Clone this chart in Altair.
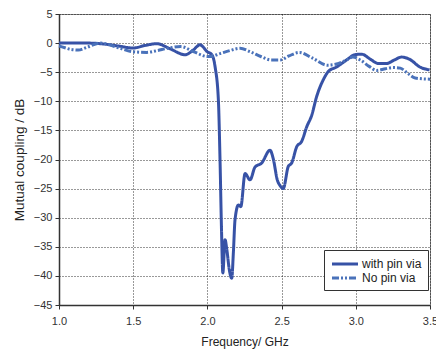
import altair as alt
import pandas as pd

pin_f = [1.0, 1.1, 1.2, 1.28, 1.4, 1.5, 1.58, 1.66, 1.75, 1.85, 1.9, 1.95, 2.0, 2.03, 2.052,
         2.074, 2.085, 2.095, 2.104, 2.119, 2.131, 2.148, 2.164, 2.175, 2.186, 2.209, 2.225,
         2.254, 2.287, 2.321, 2.366, 2.422, 2.444, 2.471, 2.49, 2.511, 2.545, 2.568, 2.602,
         2.635, 2.669, 2.703, 2.736, 2.781, 2.814, 2.871, 2.938, 2.994, 3.039, 3.1, 3.151,
         3.207, 3.26, 3.308, 3.364, 3.431, 3.497]
pin_db = [0, 0, 0, -0.1, -0.5, -0.85, -0.4, -0.1, -1.0, -2.0, -1.3, -0.3, -1.5, -2.0, -4.1,
          -9.8, -20, -32, -39.5, -33.8, -35.5, -39, -40.4, -36, -30.4, -27.8, -28.1,
          -22.4, -23.5, -21.3, -20.6, -18.4, -19.9, -23.5, -24.5, -25, -21.2, -20.6, -17.8,
          -16.9, -14.4, -12.4, -9.2, -6.3, -4.9, -4.1, -2.9, -2.0, -1.9, -2.8, -3.5,
          -3.5, -2.9, -2.4, -2.8, -4.1, -4.6]

nopin_f = [1.0, 1.04, 1.08, 1.13, 1.19, 1.28, 1.4, 1.5, 1.59, 1.66, 1.73, 1.82, 1.91, 2.0,
           2.02, 2.085, 2.15, 2.22, 2.29, 2.36, 2.43, 2.49, 2.55, 2.62, 2.71, 2.81, 2.87,
           2.93, 2.98, 3.03, 3.09, 3.14, 3.2, 3.25, 3.30, 3.35, 3.40, 3.5]
nopin_db = [-0.5, -0.8, -1.1, -1.2, -0.7, 0, -0.8, -1.5, -1.6, -1.3, -0.9, -0.6, -1.5, -2.3,
            -2.3, -1.8, -1.3, -0.9, -1.5, -2.3, -2.9, -2.9, -2.2, -1.6, -2.6, -3.8, -3.6,
            -3.0, -2.4, -2.9, -4.0, -4.7, -4.4, -4.2, -4.3, -5.2, -6.0, -6.2]

series = ["with pin via", "No pin via"]

df = pd.concat([
    pd.DataFrame({"f": pin_f, "db": pin_db, "s": series[0]}),
    pd.DataFrame({"f": nopin_f, "db": nopin_db, "s": series[1]}),
])

font = "Liberation Sans"

chart = alt.Chart(df).mark_line(strokeWidth=3, interpolate="monotone").encode(
    x=alt.X("f:Q", scale=alt.Scale(domain=[1.0, 3.5], nice=False, zero=False),
            axis=alt.Axis(title="Frequency/ GHz", values=[1.0, 1.5, 2.0, 2.5, 3.0, 3.5],
                          format=".1f", labelFlush=False)),
    y=alt.Y("db:Q", scale=alt.Scale(domain=[-45, 5], nice=False),
            axis=alt.Axis(title="Mutual coupling / dB", values=list(range(-45, 10, 5)),
                          titleFontSize=13.5)),
    color=alt.Color("s:N", scale=alt.Scale(domain=series, range=["#3752a6", "#4a72ba"]),
                    legend=alt.Legend(title=None, orient="none", legendX=265, legendY=236,
                                      symbolType="M-2,0H2", symbolStrokeWidth=3,
                                      symbolSize=169, symbolOffset=7, rowPadding=0,
                                      strokeColor="#333333", fillColor="#ffffff", padding=6,
                                      labelFont=font, labelFontSize=12, labelColor="#222222",
                                      labelOffset=9)),
    strokeDash=alt.StrokeDash("s:N", scale=alt.Scale(domain=series, range=[[1, 0], [7, 2, 2, 2, 2, 2]]),
                              legend=None),
).properties(
    width=371, height=291,
    autosize=alt.AutoSizeParams(type="none"),
    padding={"left": 59, "top": 14, "right": 6, "bottom": 47},
).configure_view(
    stroke="#888888", strokeWidth=1
).configure_axis(
    grid=True, gridColor="#000000", gridDash=[1, 2], gridOpacity=0.8, gridWidth=1,
    domainColor="#333333", domainWidth=1.5, tickColor="#333333", tickSize=4,
    labelFont=font, labelFontSize=11, labelColor="#333333",
    titleFont=font, titleFontSize=12, titleFontWeight="normal", titleColor="#222222",
).configure_axisX(
    labelPadding=6, titlePadding=10
).configure_axisY(
    labelPadding=3, titlePadding=7
)

chart.save("out.html", embed_options={"renderer": "svg", "actions": False})
